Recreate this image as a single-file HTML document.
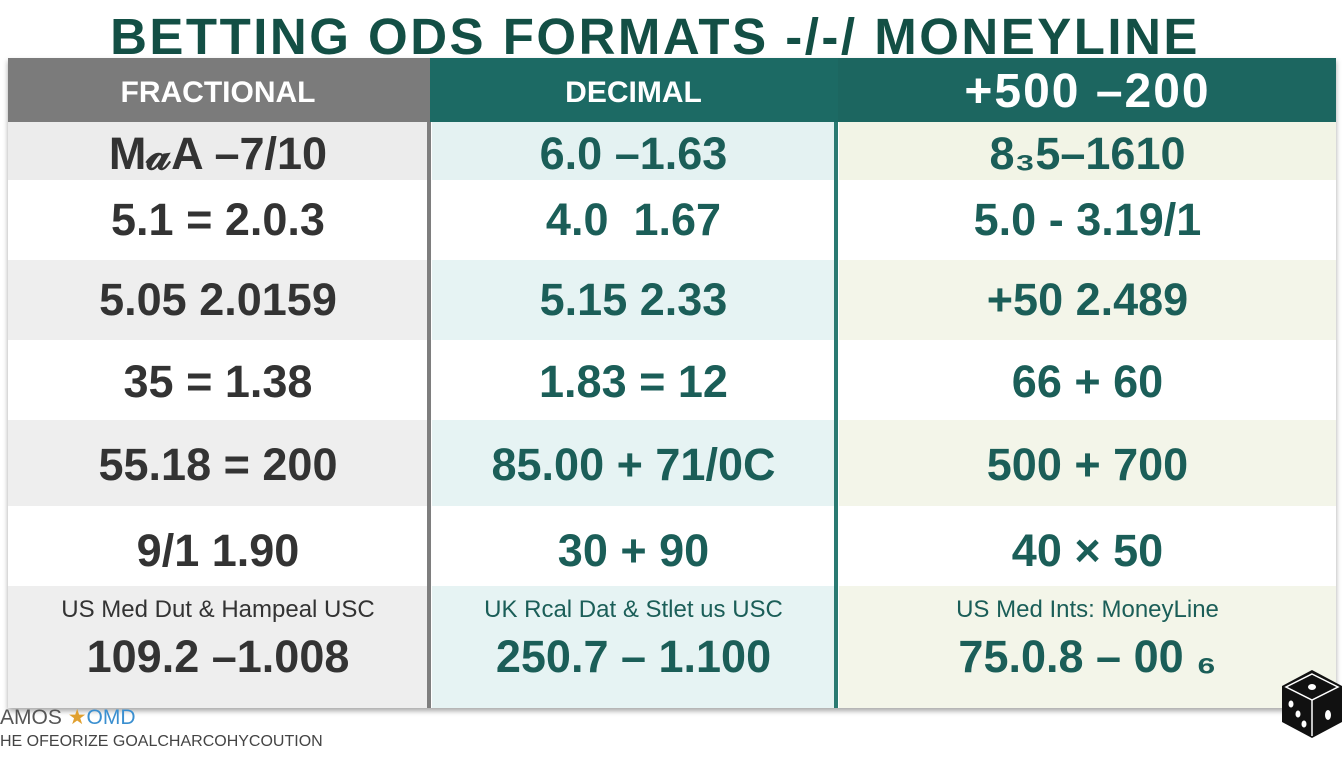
<!DOCTYPE html>
<html><head><meta charset="utf-8"><style>
body{margin:0;width:1344px;height:768px;background:#fff;position:relative;overflow:hidden;font-family:"Liberation Sans",sans-serif;}
.a{position:absolute;}
.t{position:absolute;text-align:center;font-weight:bold;white-space:nowrap;line-height:1;}
.c1{left:8px;width:420px;color:#333;}
.c2{left:432px;width:403px;color:#1b5e58;}
.c3{left:839px;width:497px;color:#1b5e58;}
.v{font-size:45px;}
</style></head><body>
<div class="t" style="left:0;width:1310px;top:11px;font-size:51px;color:#134f45;letter-spacing:2.5px;">BETTING ODS FORMATS -/-/ MONEYLINE</div>
<div class="a" style="left:8px;top:58px;width:1328px;height:650px;box-shadow:0 3px 5px rgba(0,0,0,.35);"></div>
<div class="a" style="left:8px;top:58px;width:422px;height:64px;background:#7b7b7b"></div>
<div class="a" style="left:430px;top:58px;width:408px;height:64px;background:#1c6a64"></div>
<div class="a" style="left:838px;top:58px;width:498px;height:64px;background:#1c6660"></div>
<div class="t c1" style="top:78px;font-size:30px;color:#fff">FRACTIONAL</div>
<div class="t c2" style="top:78px;font-size:30px;color:#fff">DECIMAL</div>
<div class="t c3" style="top:68px;font-size:48px;color:#fff;letter-spacing:2px">+500 &ndash;200</div>
<div class="a" style="left:8px;top:122px;width:420px;height:58px;background:#ececec"></div>
<div class="a" style="left:8px;top:180px;width:420px;height:80px;background:#fff"></div>
<div class="a" style="left:8px;top:260px;width:420px;height:80px;background:#eeeeee"></div>
<div class="a" style="left:8px;top:340px;width:420px;height:80px;background:#fff"></div>
<div class="a" style="left:8px;top:420px;width:420px;height:86px;background:#eeeeee"></div>
<div class="a" style="left:8px;top:506px;width:420px;height:80px;background:#fff"></div>
<div class="a" style="left:8px;top:586px;width:420px;height:122px;background:#eeeeee"></div>
<div class="a" style="left:432px;top:122px;width:403px;height:58px;background:#e4f2f2"></div>
<div class="a" style="left:432px;top:180px;width:403px;height:80px;background:#fff"></div>
<div class="a" style="left:432px;top:260px;width:403px;height:80px;background:#e6f3f3"></div>
<div class="a" style="left:432px;top:340px;width:403px;height:80px;background:#fff"></div>
<div class="a" style="left:432px;top:420px;width:403px;height:86px;background:#e6f3f3"></div>
<div class="a" style="left:432px;top:506px;width:403px;height:80px;background:#fff"></div>
<div class="a" style="left:432px;top:586px;width:403px;height:122px;background:#e6f3f3"></div>
<div class="a" style="left:839px;top:122px;width:497px;height:58px;background:#f2f4e6"></div>
<div class="a" style="left:839px;top:180px;width:497px;height:80px;background:#fff"></div>
<div class="a" style="left:839px;top:260px;width:497px;height:80px;background:#f3f5e9"></div>
<div class="a" style="left:839px;top:340px;width:497px;height:80px;background:#fff"></div>
<div class="a" style="left:839px;top:420px;width:497px;height:86px;background:#f3f5e9"></div>
<div class="a" style="left:839px;top:506px;width:497px;height:80px;background:#fff"></div>
<div class="a" style="left:839px;top:586px;width:497px;height:122px;background:#f3f5e9"></div>
<div class="a" style="left:427px;top:122px;width:4px;height:586px;background:#7e7e7e"></div>
<div class="a" style="left:834px;top:122px;width:4px;height:586px;background:#2a7a72"></div>
<div class="t c1 v" style="top:131px">M&#x1D4B6;A &ndash;7/10</div>
<div class="t c2 v" style="top:131px">6.0 &ndash;1.63</div>
<div class="t c3 v" style="top:131px">8&#x2083;5&ndash;1610</div>
<div class="t c1 v" style="top:197px">5.1 = 2.0.3</div>
<div class="t c2 v" style="top:197px">4.0 &nbsp;1.67</div>
<div class="t c3 v" style="top:197px">5.0 - 3.19/1</div>
<div class="t c1 v" style="top:277px">5.05 2.0159</div>
<div class="t c2 v" style="top:277px">5.15 2.33</div>
<div class="t c3 v" style="top:277px">+50 2.489</div>
<div class="t c1 v" style="top:359px">35 = 1.38</div>
<div class="t c2 v" style="top:359px">1.83 = 12</div>
<div class="t c3 v" style="top:359px">66 + 60</div>
<div class="t c1 v" style="top:442px">55.18 = 200</div>
<div class="t c2 v" style="top:442px">85.00 + 71/0C</div>
<div class="t c3 v" style="top:442px">500 + 700</div>
<div class="t c1 v" style="top:528px">9/1 1.90</div>
<div class="t c2 v" style="top:528px">30 + 90</div>
<div class="t c3 v" style="top:528px">40 &times; 50</div>
<div class="t c1" style="top:598px;font-size:24px;font-weight:normal">US Med Dut &amp; Hampeal USC</div>
<div class="t c2" style="top:598px;font-size:24px;font-weight:normal">UK Rcal Dat &amp; Stlet us USC</div>
<div class="t c3" style="top:598px;font-size:24px;font-weight:normal">US Med Ints: MoneyLine</div>
<div class="t c1 v" style="top:634px">109.2 &ndash;1.008</div>
<div class="t c2 v" style="top:634px">250.7 &ndash; 1.100</div>
<div class="t c3 v" style="top:634px">75.0.8 &ndash; 00 &#x2086;</div>
<div class="a" style="left:0;top:705px;font-size:21px;color:#555">AMOS <span style="color:#e0a030">&#9733;</span><span style="color:#3a8fd0">OMD</span></div>
<div class="a" style="left:0;top:733px;font-size:16px;color:#444">HE OFEORIZE GOALCHARCOHYCOUTION</div>
<svg class="a" style="left:1280px;top:668px" width="64" height="72" viewBox="0 0 64 72">
<polygon points="32,2 62,18 62,54 32,70 2,54 2,18" fill="#111"/>
<polygon points="32,6 58,19 32,32 6,19" fill="#111" stroke="#fff" stroke-width="1.5"/>
<line x1="32" y1="32" x2="32" y2="68" stroke="#fff" stroke-width="1.5"/>
<ellipse cx="32" cy="19" rx="4" ry="3" fill="#fff"/>
<ellipse cx="11" cy="36" rx="2.5" ry="3.5" fill="#fff"/><ellipse cx="18" cy="46" rx="2.5" ry="3.5" fill="#fff"/><ellipse cx="24" cy="56" rx="2.5" ry="3.5" fill="#fff"/>
<ellipse cx="48" cy="47" rx="3" ry="5" fill="#fff"/>
</svg>
</body></html>
